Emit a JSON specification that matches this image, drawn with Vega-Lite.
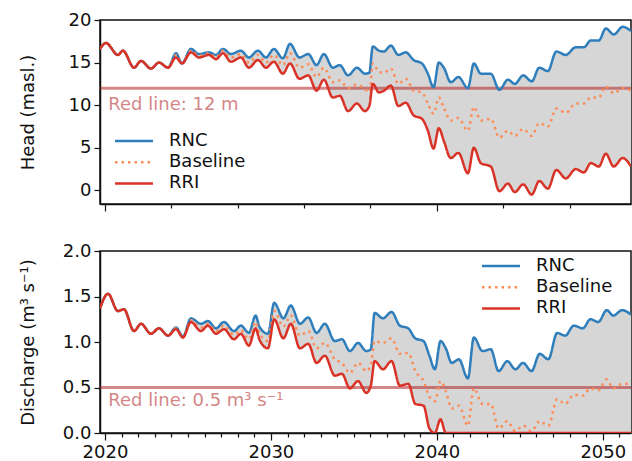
{
  "$schema": "https://vega.github.io/schema/vega-lite/v6.json",
  "padding": {"left": 18, "top": 10, "right": 1, "bottom": 0},
  "spacing": 28,
  "config": {
    "font": "DejaVu Sans",
    "view": {"stroke": "#111", "strokeWidth": 1.5},
    "axis": {"labelFont": "DejaVu Sans", "labelFontSize": 18, "titleFont": "DejaVu Sans", "titleFontSize": 18, "titleFontWeight": "normal", "labelColor": "#111", "titleColor": "#111", "tickColor": "#111", "domainColor": "#111", "domainWidth": 1.5, "tickWidth": 1.2, "grid": false, "labelPadding": 3},
    "legend": {"labelFont": "DejaVu Sans", "labelFontSize": 18, "labelColor": "#111", "symbolType": "M-4,0H4", "symbolSize": 90, "symbolStrokeWidth": 2.5, "labelOffset": 26, "rowPadding": 3.2, "padding": 0, "title": null}
  },
  "datasets": {
    "head": [
      {"year": 2019.7, "RNC": 16.6, "Baseline": 16.6, "RRI": 16.6},
      {"year": 2020.06, "RNC": 17.3, "Baseline": 17.3, "RRI": 17.3},
      {"year": 2020.78, "RNC": 15.9, "Baseline": 15.9, "RRI": 15.9},
      {"year": 2021.08, "RNC": 16.4, "Baseline": 16.4, "RRI": 16.4},
      {"year": 2021.75, "RNC": 14.4, "Baseline": 14.4, "RRI": 14.4},
      {"year": 2022.17, "RNC": 15.2, "Baseline": 15.2, "RRI": 15.2},
      {"year": 2022.77, "RNC": 14.3, "Baseline": 14.3, "RRI": 14.3},
      {"year": 2023.25, "RNC": 15.0, "Baseline": 15.0, "RRI": 15.0},
      {"year": 2023.8, "RNC": 14.4, "Baseline": 14.4, "RRI": 14.4},
      {"year": 2024.28, "RNC": 16.1, "Baseline": 15.9, "RRI": 15.6},
      {"year": 2024.64, "RNC": 14.9, "Baseline": 14.9, "RRI": 14.9},
      {"year": 2025.18, "RNC": 16.6, "Baseline": 16.4, "RRI": 16.2},
      {"year": 2025.66, "RNC": 16.0, "Baseline": 15.8, "RRI": 15.6},
      {"year": 2026.27, "RNC": 16.2, "Baseline": 16.1, "RRI": 15.9},
      {"year": 2026.69, "RNC": 15.9, "Baseline": 15.6, "RRI": 15.4},
      {"year": 2027.11, "RNC": 16.6, "Baseline": 16.4, "RRI": 16.1},
      {"year": 2027.59, "RNC": 16.0, "Baseline": 15.6, "RRI": 15.1},
      {"year": 2028.19, "RNC": 16.4, "Baseline": 16.0, "RRI": 15.6},
      {"year": 2028.67, "RNC": 15.6, "Baseline": 15.0, "RRI": 14.4},
      {"year": 2029.22, "RNC": 16.4, "Baseline": 15.9, "RRI": 15.3},
      {"year": 2029.7, "RNC": 15.6, "Baseline": 15.0, "RRI": 14.4},
      {"year": 2030.18, "RNC": 16.6, "Baseline": 15.9, "RRI": 15.1},
      {"year": 2030.72, "RNC": 15.5, "Baseline": 14.7, "RRI": 13.7},
      {"year": 2031.15, "RNC": 17.2, "Baseline": 16.1, "RRI": 14.9},
      {"year": 2031.72, "RNC": 15.6, "Baseline": 14.4, "RRI": 13.1},
      {"year": 2032.25, "RNC": 16.0, "Baseline": 14.8, "RRI": 13.5},
      {"year": 2032.75, "RNC": 14.7, "Baseline": 13.3, "RRI": 11.7},
      {"year": 2033.19, "RNC": 16.0, "Baseline": 14.4, "RRI": 13.0},
      {"year": 2033.73, "RNC": 14.4, "Baseline": 12.7, "RRI": 10.9},
      {"year": 2034.15, "RNC": 14.7, "Baseline": 12.9, "RRI": 11.1},
      {"year": 2034.65, "RNC": 13.5, "Baseline": 12.0, "RRI": 9.3},
      {"year": 2035.18, "RNC": 14.4, "Baseline": 12.4, "RRI": 10.2},
      {"year": 2035.66, "RNC": 13.7, "Baseline": 11.9, "RRI": 9.3},
      {"year": 2035.93, "RNC": 13.8, "Baseline": 11.5, "RRI": 9.9},
      {"year": 2036.14, "RNC": 16.9, "Baseline": 14.9, "RRI": 12.5},
      {"year": 2036.51, "RNC": 16.4, "Baseline": 13.9, "RRI": 11.5},
      {"year": 2036.81, "RNC": 16.3, "Baseline": 13.8, "RRI": 11.7},
      {"year": 2037.23, "RNC": 17.0, "Baseline": 14.3, "RRI": 12.3},
      {"year": 2037.68, "RNC": 15.9, "Baseline": 12.5, "RRI": 9.9},
      {"year": 2038.13, "RNC": 16.2, "Baseline": 13.1, "RRI": 10.3},
      {"year": 2038.6, "RNC": 15.3, "Baseline": 11.7, "RRI": 8.8},
      {"year": 2039.1, "RNC": 14.9, "Baseline": 11.5, "RRI": 8.4},
      {"year": 2039.46, "RNC": 13.7, "Baseline": 10.2, "RRI": 7.0},
      {"year": 2039.8, "RNC": 12.1, "Baseline": 9.0, "RRI": 4.9},
      {"year": 2040.12, "RNC": 15.0, "Baseline": 10.9, "RRI": 7.3},
      {"year": 2040.42, "RNC": 14.4, "Baseline": 9.7, "RRI": 5.8},
      {"year": 2040.84, "RNC": 12.7, "Baseline": 8.2, "RRI": 3.8},
      {"year": 2041.3, "RNC": 13.3, "Baseline": 8.5, "RRI": 4.4},
      {"year": 2041.87, "RNC": 12.0, "Baseline": 7.0, "RRI": 2.0},
      {"year": 2042.23, "RNC": 14.9, "Baseline": 9.8, "RRI": 5.0},
      {"year": 2042.65, "RNC": 13.7, "Baseline": 8.2, "RRI": 3.2},
      {"year": 2043.25, "RNC": 13.7, "Baseline": 8.4, "RRI": 2.8},
      {"year": 2043.77, "RNC": 11.8, "Baseline": 6.2, "RRI": -0.1},
      {"year": 2044.28, "RNC": 13.0, "Baseline": 7.0, "RRI": 0.8},
      {"year": 2044.7, "RNC": 12.5, "Baseline": 6.4, "RRI": -0.2},
      {"year": 2045.2, "RNC": 13.5, "Baseline": 7.2, "RRI": 0.7},
      {"year": 2045.72, "RNC": 12.8, "Baseline": 6.4, "RRI": -0.5},
      {"year": 2046.17, "RNC": 14.4, "Baseline": 7.9, "RRI": 1.1},
      {"year": 2046.69, "RNC": 14.0, "Baseline": 7.5, "RRI": 0.2},
      {"year": 2047.2, "RNC": 16.3, "Baseline": 9.6, "RRI": 2.4},
      {"year": 2047.77, "RNC": 15.9, "Baseline": 9.1, "RRI": 1.4},
      {"year": 2048.37, "RNC": 16.8, "Baseline": 10.2, "RRI": 2.5},
      {"year": 2048.86, "RNC": 16.8, "Baseline": 10.2, "RRI": 2.1},
      {"year": 2049.28, "RNC": 17.6, "Baseline": 10.9, "RRI": 3.2},
      {"year": 2049.76, "RNC": 17.6, "Baseline": 10.9, "RRI": 2.8},
      {"year": 2050.18, "RNC": 19.0, "Baseline": 12.2, "RRI": 4.3},
      {"year": 2050.66, "RNC": 18.3, "Baseline": 11.4, "RRI": 2.8},
      {"year": 2051.2, "RNC": 19.2, "Baseline": 12.0, "RRI": 3.8},
      {"year": 2051.7, "RNC": 18.7, "Baseline": 11.7, "RRI": 2.8}
    ],
    "dis": [
      {"year": 2019.7, "RNC": 1.37, "Baseline": 1.37, "RRI": 1.37},
      {"year": 2020.18, "RNC": 1.53, "Baseline": 1.53, "RRI": 1.53},
      {"year": 2020.78, "RNC": 1.34, "Baseline": 1.34, "RRI": 1.34},
      {"year": 2021.14, "RNC": 1.36, "Baseline": 1.36, "RRI": 1.36},
      {"year": 2021.75, "RNC": 1.12, "Baseline": 1.12, "RRI": 1.12},
      {"year": 2022.17, "RNC": 1.20, "Baseline": 1.20, "RRI": 1.20},
      {"year": 2022.77, "RNC": 1.09, "Baseline": 1.09, "RRI": 1.09},
      {"year": 2023.25, "RNC": 1.15, "Baseline": 1.15, "RRI": 1.15},
      {"year": 2023.8, "RNC": 1.07, "Baseline": 1.07, "RRI": 1.07},
      {"year": 2024.28, "RNC": 1.16, "Baseline": 1.15, "RRI": 1.14},
      {"year": 2024.7, "RNC": 1.06, "Baseline": 1.05, "RRI": 1.05},
      {"year": 2025.18, "RNC": 1.26, "Baseline": 1.24, "RRI": 1.22},
      {"year": 2025.78, "RNC": 1.20, "Baseline": 1.16, "RRI": 1.12},
      {"year": 2026.2, "RNC": 1.23, "Baseline": 1.20, "RRI": 1.18},
      {"year": 2026.69, "RNC": 1.15, "Baseline": 1.12, "RRI": 1.09},
      {"year": 2027.17, "RNC": 1.22, "Baseline": 1.18, "RRI": 1.14},
      {"year": 2027.77, "RNC": 1.12, "Baseline": 1.08, "RRI": 1.03},
      {"year": 2028.19, "RNC": 1.18, "Baseline": 1.13, "RRI": 1.09},
      {"year": 2028.67, "RNC": 1.10, "Baseline": 1.03, "RRI": 0.96},
      {"year": 2029.08, "RNC": 1.29, "Baseline": 1.22, "RRI": 1.15},
      {"year": 2029.3, "RNC": 1.17, "Baseline": 1.10, "RRI": 1.03},
      {"year": 2029.82, "RNC": 1.09, "Baseline": 1.01, "RRI": 0.93},
      {"year": 2030.2, "RNC": 1.43, "Baseline": 1.34, "RRI": 1.25},
      {"year": 2030.75, "RNC": 1.26, "Baseline": 1.17, "RRI": 1.04},
      {"year": 2031.2, "RNC": 1.40, "Baseline": 1.29, "RRI": 1.20},
      {"year": 2031.75, "RNC": 1.20, "Baseline": 1.07, "RRI": 0.93},
      {"year": 2032.25, "RNC": 1.27, "Baseline": 1.12, "RRI": 0.98},
      {"year": 2032.75, "RNC": 1.10, "Baseline": 0.93, "RRI": 0.77},
      {"year": 2033.25, "RNC": 1.20, "Baseline": 0.99, "RRI": 0.85},
      {"year": 2033.85, "RNC": 1.01, "Baseline": 0.81, "RRI": 0.63},
      {"year": 2034.28, "RNC": 1.03, "Baseline": 0.77, "RRI": 0.65},
      {"year": 2034.76, "RNC": 0.90, "Baseline": 0.66, "RRI": 0.49},
      {"year": 2035.25, "RNC": 0.99, "Baseline": 0.77, "RRI": 0.57},
      {"year": 2035.75, "RNC": 0.90, "Baseline": 0.68, "RRI": 0.44},
      {"year": 2036.02, "RNC": 0.92, "Baseline": 0.75, "RRI": 0.52},
      {"year": 2036.25, "RNC": 1.32, "Baseline": 1.01, "RRI": 0.79},
      {"year": 2036.75, "RNC": 1.26, "Baseline": 0.99, "RRI": 0.70},
      {"year": 2037.27, "RNC": 1.33, "Baseline": 1.04, "RRI": 0.79},
      {"year": 2037.77, "RNC": 1.18, "Baseline": 0.87, "RRI": 0.52},
      {"year": 2038.28, "RNC": 1.15, "Baseline": 0.88, "RRI": 0.54},
      {"year": 2038.7, "RNC": 1.04, "Baseline": 0.68, "RRI": 0.32},
      {"year": 2039.2, "RNC": 1.01, "Baseline": 0.57, "RRI": 0.30},
      {"year": 2039.55, "RNC": 0.85, "Baseline": 0.40, "RRI": 0.05},
      {"year": 2039.88, "RNC": 0.70, "Baseline": 0.35, "RRI": 0.0},
      {"year": 2040.22, "RNC": 1.01, "Baseline": 0.57, "RRI": 0.15},
      {"year": 2040.54, "RNC": 0.93, "Baseline": 0.46, "RRI": 0.0},
      {"year": 2040.9, "RNC": 0.77, "Baseline": 0.27, "RRI": 0.0},
      {"year": 2041.33, "RNC": 0.81, "Baseline": 0.30, "RRI": 0.0},
      {"year": 2041.87, "RNC": 0.60, "Baseline": 0.08, "RRI": 0.0},
      {"year": 2042.23, "RNC": 1.05, "Baseline": 0.49, "RRI": 0.0},
      {"year": 2042.75, "RNC": 0.90, "Baseline": 0.32, "RRI": 0.0},
      {"year": 2043.25, "RNC": 0.92, "Baseline": 0.32, "RRI": 0.0},
      {"year": 2043.72, "RNC": 0.68, "Baseline": 0.05, "RRI": 0.0},
      {"year": 2044.25, "RNC": 0.79, "Baseline": 0.13, "RRI": 0.0},
      {"year": 2044.73, "RNC": 0.70, "Baseline": 0.02, "RRI": 0.0},
      {"year": 2045.2, "RNC": 0.77, "Baseline": 0.08, "RRI": 0.0},
      {"year": 2045.7, "RNC": 0.68, "Baseline": 0.02, "RRI": 0.0},
      {"year": 2046.2, "RNC": 0.87, "Baseline": 0.13, "RRI": 0.0},
      {"year": 2046.72, "RNC": 0.81, "Baseline": 0.08, "RRI": 0.0},
      {"year": 2047.25, "RNC": 1.10, "Baseline": 0.37, "RRI": 0.0},
      {"year": 2047.74, "RNC": 1.07, "Baseline": 0.32, "RRI": 0.0},
      {"year": 2048.25, "RNC": 1.18, "Baseline": 0.42, "RRI": 0.0},
      {"year": 2048.8, "RNC": 1.15, "Baseline": 0.41, "RRI": 0.0},
      {"year": 2049.25, "RNC": 1.25, "Baseline": 0.49, "RRI": 0.0},
      {"year": 2049.73, "RNC": 1.22, "Baseline": 0.47, "RRI": 0.0},
      {"year": 2050.24, "RNC": 1.35, "Baseline": 0.59, "RRI": 0.0},
      {"year": 2050.63, "RNC": 1.29, "Baseline": 0.49, "RRI": 0.0},
      {"year": 2051.17, "RNC": 1.35, "Baseline": 0.54, "RRI": 0.0},
      {"year": 2051.7, "RNC": 1.30, "Baseline": 0.54, "RRI": 0.0}
    ],
    "redHead": [{"v": 12, "label": "Red line: 12 m"}],
    "redDis": [{"v": 0.5, "label": "Red line: 0.5 m³ s⁻¹"}]
  },
  "resolve": {"scale": {"color": "independent", "strokeDash": "independent"}, "legend": {"color": "independent", "strokeDash": "independent"}},
  "vconcat": [
    {
      "width": 531,
      "height": 184,
      "layer": [
        {
          "data": {"name": "head"},
          "mark": {"type": "area", "interpolate": "monotone", "color": "#d6d6d6", "clip": true},
          "encoding": {
            "x": {"field": "year", "type": "quantitative", "scale": {"domain": [2019.7, 2051.7], "nice": false, "zero": false},
              "axis": {"title": null, "values": [2020,2021,2022,2023,2024,2025,2026,2027,2028,2029,2030,2031,2032,2033,2034,2035,2036,2037,2038,2039,2040,2041,2042,2043,2044,2045,2046,2047,2048,2049,2050,2051], "labels": false, "tickSize": {"condition": {"test": "datum.value % 10 === 0", "value": 7}, "value": 4}}},
            "y": {"field": "RNC", "type": "quantitative", "scale": {"domain": [-1.6, 20], "nice": false, "zero": false},
              "axis": {"title": "Head (masl.)", "values": [0, 5, 10, 15, 20], "tickSize": 6, "titleX": -72, "titleBaseline": "middle"}},
            "y2": {"field": "RRI"}
          }
        },
        {
          "data": {"name": "redHead"},
          "mark": {"type": "rule", "color": "#b22222", "opacity": 0.55, "strokeWidth": 3},
          "encoding": {"y": {"field": "v", "type": "quantitative"}}
        },
        {
          "data": {"name": "redHead"},
          "mark": {"type": "text", "align": "left", "baseline": "alphabetic", "dy": 22, "fontSize": 18, "font": "DejaVu Sans", "color": "#b22222", "opacity": 0.55},
          "encoding": {"x": {"datum": 2020.2}, "y": {"field": "v", "type": "quantitative"}, "text": {"field": "label"}}
        },
        {
          "data": {"name": "head"},
          "transform": [{"fold": ["RNC", "Baseline", "RRI"], "as": ["series", "val"]}],
          "mark": {"type": "line", "interpolate": "monotone", "strokeWidth": 2.5, "clip": true},
          "encoding": {
            "x": {"field": "year", "type": "quantitative"},
            "y": {"field": "val", "type": "quantitative"},
            "color": {"field": "series", "type": "nominal", "scale": {"domain": ["RNC", "Baseline", "RRI"], "range": ["#2e7ebc", "#fc8d59", "#d93327"]},
              "legend": {"orient": "none", "legendX": 25, "legendY": 112}},
            "strokeDash": {"field": "series", "type": "nominal", "scale": {"domain": ["RNC", "Baseline", "RRI"], "range": [[1, 0], [2.5, 4], [1, 0]]},
              "legend": {"orient": "none", "legendX": 25, "legendY": 112}}
          }
        }
      ]
    },
    {
      "width": 531,
      "height": 182,
      "resolve": {"axis": {"x": "independent"}},
      "layer": [
        {
          "data": {"name": "dis"},
          "mark": {"type": "area", "interpolate": "monotone", "color": "#d6d6d6", "clip": true},
          "encoding": {
            "x": {"field": "year", "type": "quantitative", "scale": {"domain": [2019.7, 2051.7], "nice": false, "zero": false},
              "axis": {"title": null, "orient": "bottom", "values": [2020, 2030, 2040, 2050], "format": "d", "tickSize": 7}},
            "y": {"field": "RNC", "type": "quantitative", "scale": {"domain": [0, 2], "nice": false},
              "axis": {"title": "Discharge (m³ s⁻¹)", "values": [0, 0.5, 1, 1.5, 2], "format": ".1f", "tickSize": 6, "titleX": -72, "titleBaseline": "middle"}},
            "y2": {"field": "RRI"}
          }
        },
        {
          "data": {"name": "redDis"},
          "mark": {"type": "rule", "color": "#b22222", "opacity": 0.55, "strokeWidth": 3},
          "encoding": {"y": {"field": "v", "type": "quantitative"}}
        },
        {
          "data": {"name": "redDis"},
          "mark": {"type": "text", "align": "left", "baseline": "alphabetic", "dy": 18, "fontSize": 18, "font": "DejaVu Sans", "color": "#b22222", "opacity": 0.55},
          "encoding": {"x": {"datum": 2020.2, "axis": null}, "y": {"field": "v", "type": "quantitative"}, "text": {"field": "label"}}
        },
        {
          "data": {"name": "dis"},
          "transform": [{"fold": ["RNC", "Baseline", "RRI"], "as": ["series", "val"]}],
          "mark": {"type": "line", "interpolate": "monotone", "strokeWidth": 2.5, "clip": true},
          "encoding": {
            "x": {"field": "year", "type": "quantitative",
              "axis": {"title": null, "orient": "bottom", "values": [2021,2022,2023,2024,2025,2026,2027,2028,2029,2031,2032,2033,2034,2035,2036,2037,2038,2039,2041,2042,2043,2044,2045,2046,2047,2048,2049,2051], "labels": false, "tickSize": 4, "domain": false}},
            "y": {"field": "val", "type": "quantitative"},
            "color": {"field": "series", "type": "nominal", "scale": {"domain": ["RNC", "Baseline", "RRI"], "range": ["#2e7ebc", "#fc8d59", "#d93327"]},
              "legend": {"orient": "none", "legendX": 392, "legendY": 6}},
            "strokeDash": {"field": "series", "type": "nominal", "scale": {"domain": ["RNC", "Baseline", "RRI"], "range": [[1, 0], [2.5, 4], [1, 0]]},
              "legend": {"orient": "none", "legendX": 392, "legendY": 6}}
          }
        }
      ]
    }
  ]
}
